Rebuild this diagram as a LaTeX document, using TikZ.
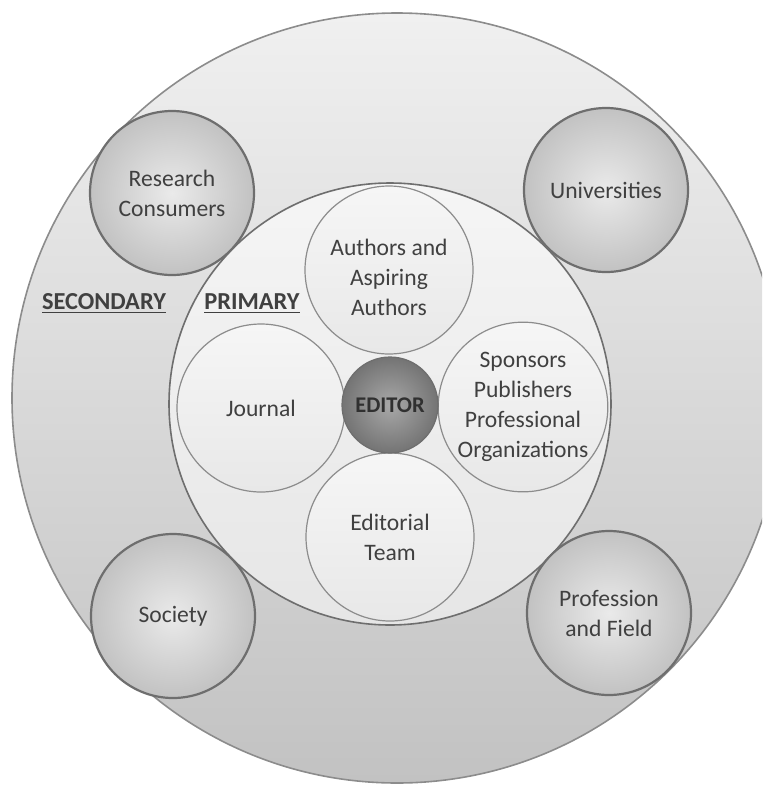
\documentclass[tikz,border=0pt]{standalone}
\usepackage{fontspec}
\setmainfont{Carlito}
\usetikzlibrary{positioning}

\definecolor{txtgray}{HTML}{404040}
\definecolor{rimgray}{HTML}{6E6E6E}
\definecolor{linegray}{HTML}{8C8C8C}

\tikzset{
	secbubble/.style={circle, draw=rimgray, line width=1.1pt, inner sep=0pt,
		minimum size=164pt*0.5, align=center, text=txtgray,
		inner color={rgb,255:red,234;green,234;blue,234},
		outer color={rgb,255:red,194;green,194;blue,194}},
	primbubble/.style={circle, draw=linegray, line width=0.6pt, inner sep=0pt,
		minimum size=168pt*0.5, align=center, text=txtgray,
		top color={rgb,255:red,246;green,246;blue,246},
		bottom color={rgb,255:red,232;green,232;blue,232}},
	editorbubble/.style={circle, draw=rimgray, line width=0.6pt, inner sep=0pt,
		minimum size=96pt*0.5, text={rgb,255:red,48;green,48;blue,48},
		font=\fontsize{11.2}{14}\selectfont\bfseries,
		inner color={rgb,255:red,168;green,168;blue,168},
		outer color={rgb,255:red,116;green,116;blue,116}},
	ringlabel/.style={text=txtgray, font=\fontsize{12.2}{15}\selectfont\bfseries},
	bubbletext/.style={text=txtgray, align=center, inner sep=0pt}
}

\begin{document}
\begin{tikzpicture}[x=0.5pt, y=-0.5pt, font=\fontsize{11.8}{15}\selectfont]

	\useasboundingbox (0,0) rectangle (762,788);
	\clip (0,0) rectangle (762,788);

	\coordinate (O) at (397, 398);
	\coordinate (P) at (390, 404);

	% secondary ring
	\shade[draw=linegray, line width=0.8pt,
		top color={rgb,255:red,240;green,240;blue,240},
		bottom color={rgb,255:red,194;green,194;blue,194}] (O) circle (385);

	% primary ring
	\shade[draw=rimgray, line width=0.8pt,
		top color={rgb,255:red,245;green,245;blue,245},
		bottom color={rgb,255:red,230;green,230;blue,230}] (P) circle (221);

	\node[ringlabel] (secondary) at (104, 304) {\underline{SECONDARY}};
	\node[ringlabel] (primary) at (252, 304) {\underline{PRIMARY}};

	% secondary stakeholders
	\node[secbubble] (consumers) at (172, 193) {Research\\Consumers};
	\node[secbubble] (universities) at (606, 190) {Universities};
	\node[secbubble] (society) at (173, 616) {Society};
	\node[secbubble] (profession) at (609, 613) {Profession\\and Field};

	% primary stakeholders
	\node[primbubble] (authors) at (389, 270) {};
	\node[bubbletext] (authorstext) at (389, 277) {Authors and\\Aspiring\\Authors};
	\node[primbubble] (journal) at (261, 408) {Journal};
	\node[primbubble] (sponsors) at (523, 407) {Sponsors\\Publishers\\Professional\\Organizations};
	\node[primbubble] (team) at (390, 537) {Editorial\\Team};

	\node[editorbubble] (editor) at (390, 405) {EDITOR};

\end{tikzpicture}
\end{document}
